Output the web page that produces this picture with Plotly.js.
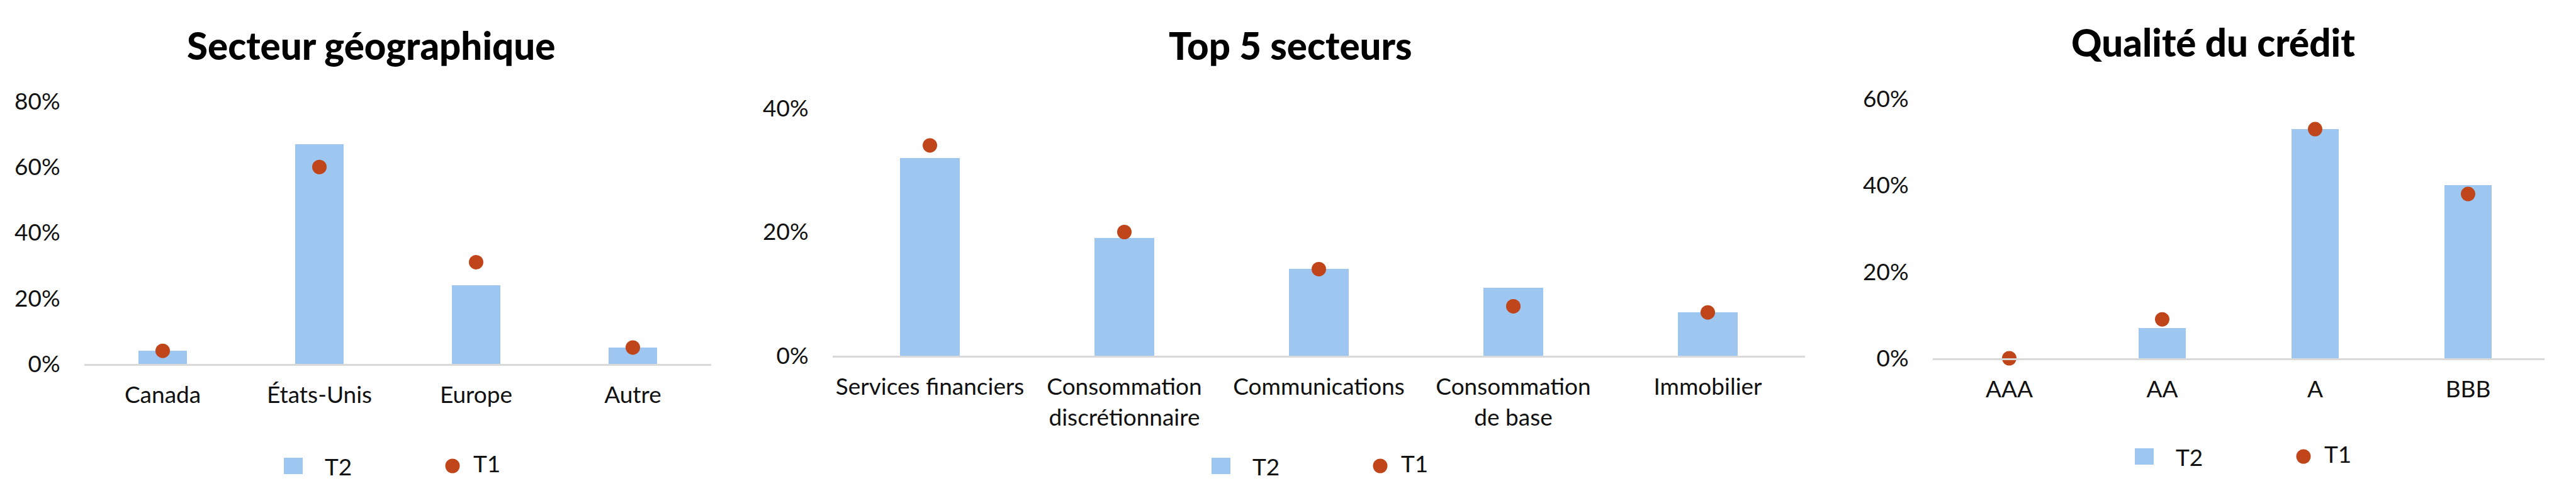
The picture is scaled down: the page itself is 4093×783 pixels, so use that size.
<!DOCTYPE html>
<html>
<head>
<meta charset="utf-8">
<script src="https://cdn.plot.ly/plotly-3.0.1.min.js"></script>
<style>
  html, body { margin: 0; padding: 0; background: #fff; }
  #chart { width: 4093px; height: 783px; }
</style>
</head>
<body>
<div id="chart"></div>
<script>
// Secteur géographique
const geoCats = ['Canada', 'États-Unis', 'Europe', 'Autre'];
const geoT2 = [4, 67, 24, 5];
const geoT1 = [4, 60, 31, 5];

// Top 5 secteurs
const sectCats = ['Services financiers', 'Consommation<br>discrétionnaire', 'Communications', 'Consommation<br>de base', 'Immobilier'];
const sectT2 = [32, 19, 14, 11, 7];
const sectT1 = [34, 20, 14, 8, 7];

// Qualité du crédit
const credCats = ['AAA', 'AA', 'A', 'BBB'];
const credT2 = [0, 7, 53, 40];
const credT1 = [0, 9, 53, 38];

const titles = ['Secteur géographique', 'Top 5 secteurs', 'Qualité du crédit'];
const yTicks = [[0, 20, 40, 60, 80], [0, 20, 40], [0, 20, 40, 60]];

const W = 4093, H = 783;
const blue = '#9DC6F0';
const red = '#C0451B';
const font = 'Lato, "Open Sans", sans-serif';

function px(x) { return x / W; }
function py(y) { return 1 - y / H; }

let data = [];
[[geoCats, geoT2, geoT1], [sectCats, sectT2, sectT1], [credCats, credT2, credT1]].forEach((set, i) => {
    let sfx = i === 0 ? '' : String(i + 1);
    data.push({
        type: 'bar', x: set[0], y: set[1], name: 'T2',
        xaxis: 'x' + sfx, yaxis: 'y' + sfx,
        marker: { color: blue }, width: 0.31, showlegend: false
    });
    data.push({
        type: 'scatter', mode: 'markers', x: set[0], y: set[2], name: 'T1',
        xaxis: 'x' + sfx, yaxis: 'y' + sfx, cliponaxis: false,
        marker: { color: red, size: 23 }, showlegend: false
    });
});

function xAxis(domain) {
    return {
        domain: domain, showline: true, linecolor: '#D9D9D9', linewidth: 3,
        showgrid: false, zeroline: false, ticks: 'outside', ticklen: 15,
        tickcolor: 'rgba(0,0,0,0)', tickfont: { family: font, size: 37, color: '#111' },
        fixedrange: true
    };
}
function yAxis(domain, ticks) {
    return {
        domain: domain, range: [0, ticks[ticks.length - 1]], showgrid: false,
        zeroline: false, showline: false, tickmode: 'array', tickvals: ticks,
        ticktext: ticks.map(t => t + '%'),
        ticks: 'outside', ticklen: 30, tickcolor: 'rgba(0,0,0,0)',
        tickfont: { family: font, size: 37, color: '#111' }, fixedrange: true
    };
}

// plot areas in pixels: [left, right, top(max tick), bottom(0%)]
const boxes = [[134, 1130, 161, 578], [1323, 2868, 172, 565], [3071, 4043, 157, 569]];
const titlePos = [[589, 72], [2050, 72], [3516, 67]];
const legendPos = [[451, 740, 719], [1925, 740, 2193], [3392, 725, 3660]];

let layout = {
    width: W, height: H,
    margin: { l: 0, r: 0, t: 0, b: 0 },
    paper_bgcolor: '#fff', plot_bgcolor: '#fff',
    showlegend: false, bargap: 0,
    annotations: [], shapes: []
};
boxes.forEach((b, i) => {
    let sfx = i === 0 ? '' : String(i + 1);
    layout['xaxis' + sfx] = xAxis([px(b[0]), px(b[1])]);
    layout['yaxis' + sfx] = yAxis([py(b[3]), py(b[2])], yTicks[i]);
    layout['xaxis' + sfx].anchor = 'y' + sfx;
    layout['yaxis' + sfx].anchor = 'x' + sfx;

    layout.annotations.push({
        text: titles[i], xref: 'paper', yref: 'paper',
        x: px(titlePos[i][0]), y: py(titlePos[i][1]), xanchor: 'center', yanchor: 'middle',
        showarrow: false, font: { family: font, size: 60, color: '#000', weight: 900 }
    });

    // legend: T2 square, T1 dot
    let lg = legendPos[i];
    layout.shapes.push({
        type: 'rect', xref: 'paper', yref: 'paper',
        x0: px(lg[0]), x1: px(lg[0] + 30), y0: py(lg[1] - 13), y1: py(lg[1] + 13),
        fillcolor: blue, line: { width: 0 }
    });
    layout.shapes.push({
        type: 'circle', xref: 'paper', yref: 'paper',
        x0: px(lg[2] - 11.5), x1: px(lg[2] + 11.5), y0: py(lg[1] - 11.5), y1: py(lg[1] + 11.5),
        fillcolor: red, line: { width: 0 }
    });
    layout.annotations.push({
        text: 'T2', xref: 'paper', yref: 'paper', x: px(lg[0] + 63), y: py(lg[1]),
        xanchor: 'left', yanchor: 'middle', showarrow: false,
        font: { family: font, size: 37, color: '#111' }
    });
    layout.annotations.push({
        text: 'T1', xref: 'paper', yref: 'paper', x: px(lg[2] + 31), y: py(lg[1] - 5),
        xanchor: 'left', yanchor: 'middle', showarrow: false,
        font: { family: font, size: 37, color: '#111' }
    });
});

Plotly.newPlot('chart', data, layout, { displayModeBar: false, staticPlot: true });
</script>
</body>
</html>
